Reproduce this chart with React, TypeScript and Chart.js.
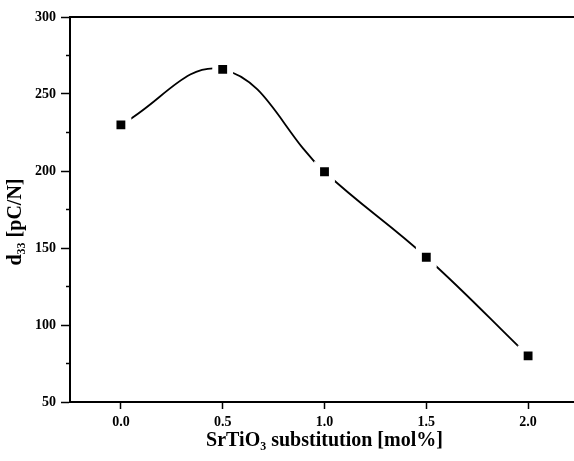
import React, { useEffect, useRef } from 'react';
import { Chart, registerables } from 'chart.js';

Chart.register(...registerables);

const xValues = [0.0, 0.5, 1.0, 1.5, 2.0];
const d33Values = [230, 266, 199.5, 144, 80];
const xTickValues = [0.0, 0.5, 1.0, 1.5, 2.0];
const yTickValues = [50, 100, 150, 200, 250, 300];
const yMinorTickValues = [75, 125, 175, 225, 275];
const xTitle = 'SrTiO₃ substitution [mol%]';
const yTitle = 'd₃₃ [pC/N]     ';

const FONT = '"Liberation Serif", "Times New Roman", serif';

const minorTicks = {
  id: 'minorTicks',
  afterDraw(chart: any) {
    const y = chart.scales.y;
    const ctx = chart.ctx;
    const left = chart.chartArea.left;
    ctx.save();
    ctx.strokeStyle = '#000';
    ctx.lineWidth = 1.5;
    yMinorTickValues.forEach((v) => {
      const py = y.getPixelForValue(v);
      ctx.beginPath();
      ctx.moveTo(left - 4, py);
      ctx.lineTo(left, py);
      ctx.stroke();
    });
    ctx.restore();
  },
};

export default function App() {
  const ref = useRef<HTMLCanvasElement | null>(null);

  useEffect(() => {
    if (!ref.current) return;
    const chart = new Chart(ref.current, {
      type: 'line',
      data: {
        datasets: [
          {
            data: xValues.map((x, i) => ({ x, y: d33Values[i] })),
            borderColor: '#000',
            borderWidth: 1.8,
            tension: 0.4,
            pointStyle: 'rect',
            pointRadius: 10.5,
            pointBackgroundColor: '#000',
            pointBorderColor: '#fff',
            pointBorderWidth: 6,
            fill: false,
          },
        ],
      },
      options: {
        animation: false,
        responsive: false,
        maintainAspectRatio: false,
        layout: { autoPadding: false, padding: { top: 17, left: 0, right: 0, bottom: 0 } },
        plugins: { legend: { display: false }, tooltip: { enabled: false } },
        scales: {
          x: {
            type: 'linear',
            position: 'bottom',
            min: -0.25,
            max: 2.25,
            afterBuildTicks: (s: any) => {
              s.ticks = xTickValues.map((v) => ({ value: v }));
            },
            afterFit: (s: any) => {
              s.height = 59;
            },
            ticks: {
              callback: (v: any) => Number(v).toFixed(1),
              font: { family: FONT, size: 14, weight: 'bold' },
              color: '#000',
              padding: 5,
              maxRotation: 0,
              autoSkip: false,
            },
            grid: { drawOnChartArea: false, tickLength: 7, tickWidth: 1.5, tickColor: '#000' },
            border: { color: '#000', width: 2 },
            title: {
              display: true,
              text: xTitle,
              font: { family: FONT, size: 20, weight: 'bold' },
              color: '#000',
              padding: { top: 4, bottom: 8 },
            },
          },
          x2: {
            type: 'linear',
            position: 'top',
            min: -0.25,
            max: 2.25,
            afterFit: (s: any) => {
              s.height = 0;
            },
            ticks: { display: false },
            grid: { display: false, drawTicks: false },
            border: { color: '#000', width: 2 },
          },
          y: {
            type: 'linear',
            position: 'left',
            min: 50,
            max: 300,
            afterBuildTicks: (s: any) => {
              s.ticks = yTickValues.map((v) => ({ value: v }));
            },
            afterFit: (s: any) => {
              s.width = 70;
            },
            ticks: {
              callback: (v: any) => String(v),
              font: { family: FONT, size: 14, weight: 'bold' },
              color: '#000',
              padding: 5,
            },
            grid: { drawOnChartArea: false, tickLength: 9, tickWidth: 1.5, tickColor: '#000' },
            border: { color: '#000', width: 2 },
            title: {
              display: true,
              text: yTitle,
              font: { family: FONT, size: 20, weight: 'bold' },
              color: '#000',
              padding: { top: 4, bottom: 4 },
            },
          },
        },
      },
      plugins: [minorTicks],
    } as any);
    return () => chart.destroy();
  }, []);

  return (
    <div style={{ position: 'fixed', left: 0, top: 0, width: 574, height: 461, overflow: 'hidden', background: '#fff' }}>
      <canvas ref={ref} width={579} height={461} style={{ display: 'block' }} />
    </div>
  );
}
